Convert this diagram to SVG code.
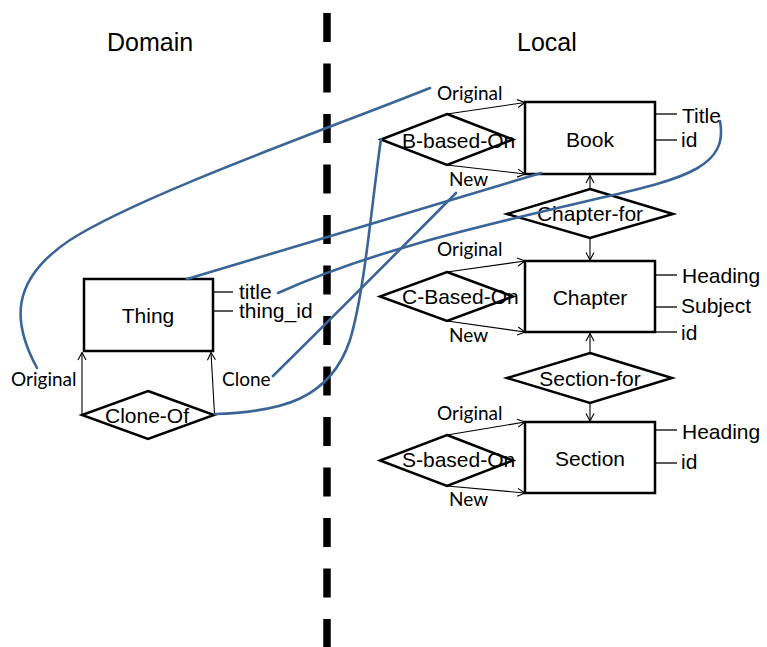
<svg xmlns="http://www.w3.org/2000/svg" width="767" height="647" viewBox="0 0 767 647">
<defs>
<marker id="arr" markerUnits="userSpaceOnUse" markerWidth="10" markerHeight="10" viewBox="0 0 10 10" refX="9.5" refY="5" orient="auto">
<path d="M2,1 L9.5,5 L2,9" fill="none" stroke="#000" stroke-width="1.1"/>
</marker>
</defs>
<style>
.box{fill:#fff;stroke:#000;stroke-width:2.5}
.dia{fill:#fff;stroke:#000;stroke-width:2.5}
.t{font-family:"Liberation Sans",Arial,sans-serif;font-size:21px;fill:#000}
.h{font-family:"Liberation Sans",Arial,sans-serif;font-size:25px;fill:#000}
.s{font-family:Lato,"Open Sans",sans-serif;font-size:19px;fill:#000}
.a{stroke:#000;stroke-width:1.1;fill:none;marker-end:url(#arr)}
.at{stroke:#000;stroke-width:1.3;fill:none}
.b{stroke:#3b6597;stroke-width:2.6;fill:none;stroke-linecap:round}
.mid{text-anchor:middle}
</style>
<rect width="767" height="647" fill="#fff"/>
<line x1="327" y1="13" x2="327" y2="647" stroke="#000" stroke-width="7.5" stroke-dasharray="29 21.5"/>
<text class="h" x="107" y="51">Domain</text>
<text class="h" x="517" y="51">Local</text>

<g id="book">
<rect class="box" x="525" y="102" width="130" height="72"/>
<text class="t mid" x="590" y="147">Book</text>
<line class="at" x1="655" y1="114" x2="677" y2="114"/>
<line class="at" x1="655" y1="140" x2="677" y2="140"/>
<text class="t" x="682" y="123">Title</text>
<text class="t" x="681" y="147">id</text>
</g>
<g id="chapter">
<rect class="box" x="525" y="261" width="130" height="71"/>
<text class="t mid" x="590" y="305">Chapter</text>
<line class="at" x1="655" y1="275" x2="677" y2="275"/>
<line class="at" x1="655" y1="307" x2="677" y2="307"/>
<line class="at" x1="655" y1="332" x2="677" y2="332"/>
<text class="t" x="682" y="283">Heading</text>
<text class="t" x="681" y="313">Subject</text>
<text class="t" x="681" y="340">id</text>
</g>
<g id="section">
<rect class="box" x="525" y="422" width="130" height="71"/>
<text class="t mid" x="590" y="466">Section</text>
<line class="at" x1="655" y1="430" x2="677" y2="430"/>
<line class="at" x1="655" y1="463" x2="677" y2="463"/>
<text class="t" x="682" y="439">Heading</text>
<text class="t" x="681" y="469">id</text>
</g>
<g id="thing">
<rect class="box" x="84" y="279" width="129" height="72"/>
<text class="t mid" x="148" y="323">Thing</text>
<line class="at" x1="213" y1="292" x2="233" y2="292"/>
<line class="at" x1="213" y1="311" x2="233" y2="311"/>
<text class="t" x="239" y="299">title</text>
<text class="t" x="239" y="318">thing_id</text>
</g>
<g id="b-based-on">
<polygon class="dia" points="447,114 513,139.5 447,165 381,139.5"/>
<text class="t" x="402" y="148">B-based-On</text>
</g>
<g id="c-based-on">
<polygon class="dia" points="447,272 513,296.5 447,321 380,296.5"/>
<text class="t" x="402" y="304">C-Based-On</text>
</g>
<g id="s-based-on">
<polygon class="dia" points="447,435 513,460.5 447,486 380,460.5"/>
<text class="t" x="402" y="467">S-based-On</text>
</g>
<g id="chapter-for">
<polygon class="dia" points="590,189 673,214 590,238 507,214"/>
<text class="t mid" x="590" y="221">Chapter-for</text>
</g>
<g id="section-for">
<polygon class="dia" points="590,353 672,378 590,403 507,378"/>
<text class="t mid" x="590" y="386">Section-for</text>
</g>
<g id="clone-of">
<polygon class="dia" points="148,391 214,415 148,439 82,415"/>
<text class="t mid" x="147" y="423">Clone-Of</text>
</g>

<g id="connectors">
<line class="a" x1="447" y1="114" x2="525" y2="102.5"/>
<line class="a" x1="447" y1="165" x2="525" y2="174"/>
<line class="a" x1="447" y1="272" x2="525" y2="261"/>
<line class="a" x1="447" y1="321" x2="525" y2="332"/>
<line class="a" x1="447" y1="435" x2="525" y2="422"/>
<line class="a" x1="447" y1="486" x2="525" y2="493"/>
<line class="a" x1="590" y1="189" x2="590" y2="175.5"/>
<line class="a" x1="590" y1="238" x2="590" y2="260"/>
<line class="a" x1="590" y1="353" x2="590" y2="333.5"/>
<line class="a" x1="590" y1="403" x2="590" y2="421"/>
<line class="a" x1="82" y1="415" x2="82" y2="352.5"/>
<line class="a" x1="214.5" y1="414" x2="211" y2="352.5"/>
<text class="s" x="437" y="100">Original</text>
<text class="s" x="449" y="186">New</text>
<text class="s" x="437" y="256">Original</text>
<text class="s" x="449" y="342">New</text>
<text class="s" x="437" y="420">Original</text>
<text class="s" x="449" y="506">New</text>
<text class="s" x="11" y="386">Original</text>
<text class="s" x="222" y="386">Clone</text>
<path class="b" d="M430,88 C330,128 140,195 70,240 C10,280 12,322 37,368"/>
<path class="b" d="M187,279 L541,173"/>
<path class="b" d="M278,293 C380,247 500,222 600,198 C690,178 728,165 720,121"/>
<path class="b" d="M273,376 Q360,290 456,193"/>
<path class="b" d="M215,414 C280,412 330,400 350,340 C365,290 372,200 381,139"/>
</g>
</svg>
